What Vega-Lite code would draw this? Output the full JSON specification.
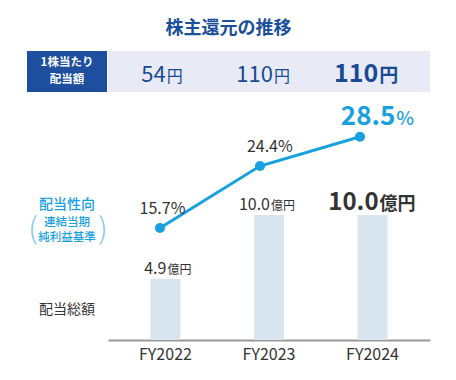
{
  "$schema": "https://vega.github.io/schema/vega-lite/v6.json",
  "padding": {"left": 27, "top": 20, "right": 5, "bottom": 5},
  "config": {"font": "Noto Sans CJK JP", "view": {"stroke": null}},
  "title": {"text": "株主還元の推移", "fontSize": 18, "fontWeight": "bold", "color": "#1a4f9c", "anchor": "middle", "offset": 13},
  "datasets": {
    "main": [
      {"year": "FY2022", "dps": 54, "total": 4.9, "payout": 15.7},
      {"year": "FY2023", "dps": 110, "total": 10.0, "payout": 24.4},
      {"year": "FY2024", "dps": 110, "total": 10.0, "payout": 28.5}
    ]
  },
  "columns": 2,
  "spacing": 0,
  "concat": [
    {
      "width": 80, "height": 41,
      "view": {"fill": "#1d4f9e", "stroke": null},
      "data": {"values": [{}]},
      "layer": [
        {"mark": {"type": "text", "text": "1株当たり", "color": "white", "fontSize": 11.5, "fontWeight": "bold", "baseline": "middle", "dy": -8.5}, "encoding": {}},
        {"mark": {"type": "text", "text": "配当額", "color": "white", "fontSize": 11.5, "fontWeight": "bold", "baseline": "middle", "dy": 8.5}, "encoding": {}}
      ]
    },
    {
      "width": 322, "height": 41,
      "view": {"fill": "#e8eaf5", "stroke": null},
      "data": {"name": "main"},
      "encoding": {"x": {"field": "year", "type": "nominal", "scale": {"paddingInner": 0.71, "paddingOuter": 0.41}, "axis": null}},
      "layer": [
        {"transform": [{"filter": "datum.year != 'FY2024'"}],
         "mark": {"type": "text", "align": "right", "baseline": "alphabetic", "dx": 4, "dy": 10, "fontSize": 22, "color": "#1a4a94"},
         "encoding": {"text": {"field": "dps", "type": "quantitative"}}},
        {"transform": [{"filter": "datum.year != 'FY2024'"}],
         "mark": {"type": "text", "text": "円", "align": "left", "baseline": "alphabetic", "dx": 5, "dy": 10, "fontSize": 16, "color": "#1a4a94"}},
        {"transform": [{"filter": "datum.year == 'FY2024'"}],
         "mark": {"type": "text", "align": "right", "baseline": "alphabetic", "dx": 2, "dy": 10, "fontSize": 25, "fontWeight": "bold", "color": "#1a4a94"},
         "encoding": {"text": {"field": "dps", "type": "quantitative"}}},
        {"transform": [{"filter": "datum.year == 'FY2024'"}],
         "mark": {"type": "text", "text": "円", "align": "left", "baseline": "alphabetic", "dx": 3, "dy": 10, "fontSize": 19, "fontWeight": "bold", "color": "#1a4a94"}}
      ]
    },
    {
      "width": 80, "height": 248,
      "data": {"values": [{}]},
      "layer": [
        {"mark": {"type": "text", "text": "配当性向", "fontSize": 14, "fontWeight": 500, "color": "#18a0df", "baseline": "middle"},
         "encoding": {"y": {"datum": 19.0, "type": "quantitative", "scale": {"domain": [0, 34.78]}, "axis": null}}},
        {"mark": {"type": "text", "text": "連結当期", "fontSize": 11.5, "fontWeight": 500, "color": "#18a0df", "baseline": "middle"},
         "encoding": {"y": {"datum": 16.55, "type": "quantitative"}}},
        {"mark": {"type": "text", "text": "純利益基準", "fontSize": 11.5, "fontWeight": 500, "color": "#18a0df", "baseline": "middle"},
         "encoding": {"y": {"datum": 14.45, "type": "quantitative"}}},
        {"mark": {"type": "text", "text": "(", "fontSize": 30, "fontWeight": 300, "color": "#7fc8ec", "baseline": "middle", "dx": -34},
         "encoding": {"y": {"datum": 15.5, "type": "quantitative"}}},
        {"mark": {"type": "text", "text": ")", "fontSize": 30, "fontWeight": 300, "color": "#7fc8ec", "baseline": "middle", "dx": 36},
         "encoding": {"y": {"datum": 15.5, "type": "quantitative"}}},
        {"mark": {"type": "text", "text": "配当総額", "fontSize": 14, "color": "#333333", "baseline": "middle"},
         "encoding": {"y": {"datum": 4.2, "type": "quantitative"}}}
      ]
    },
    {
      "width": 322, "height": 248,
      "data": {"name": "main"},
      "resolve": {"scale": {"x": "independent", "y": "independent"}},
      "layer": [
        {
          "encoding": {
            "x": {"field": "year", "type": "nominal", "scale": {"paddingInner": 0.71, "paddingOuter": 0.41},
                  "axis": {"title": null, "domainColor": "#999999", "domainWidth": 2, "ticks": false, "tickSize": 0, "labelFontSize": 16, "labelColor": "#333333", "labelPadding": 6, "labelAngle": 0, "grid": false}},
            "y": {"field": "total", "type": "quantitative", "scale": {"domain": [0, 19.85]}, "axis": null}
          },
          "layer": [
            {"mark": {"type": "bar", "color": "#d9e5ee"}},
            {"transform": [{"filter": "datum.year != 'FY2024'"}],
             "mark": {"type": "text", "align": "right", "baseline": "alphabetic", "dx": 1, "dy": -5, "fontSize": 16, "color": "#333333"},
             "encoding": {"text": {"field": "total", "type": "quantitative", "format": ".1f"}}},
            {"transform": [{"filter": "datum.year != 'FY2024'"}],
             "mark": {"type": "text", "text": "億円", "align": "left", "baseline": "alphabetic", "dx": 2, "dy": -5, "fontSize": 12, "color": "#333333"}},
            {"transform": [{"filter": "datum.year == 'FY2024'"}],
             "mark": {"type": "text", "align": "right", "baseline": "alphabetic", "dx": 6, "dy": -5, "fontSize": 24, "fontWeight": "bold", "color": "#333333"},
             "encoding": {"text": {"field": "total", "type": "quantitative", "format": ".1f"}}},
            {"transform": [{"filter": "datum.year == 'FY2024'"}],
             "mark": {"type": "text", "text": "億円", "align": "left", "baseline": "alphabetic", "dx": 7, "dy": -5, "fontSize": 18, "fontWeight": "bold", "color": "#333333"}}
          ]
        },
        {
          "encoding": {
            "x": {"field": "year", "type": "nominal", "scale": {"type": "point", "padding": 0.61, "align": 0.426}, "axis": null},
            "y": {"field": "payout", "type": "quantitative", "scale": {"domain": [0, 34.78]}, "axis": null}
          },
          "layer": [
            {"mark": {"type": "line", "color": "#18a0df", "strokeWidth": 3}},
            {"mark": {"type": "point", "filled": true, "opacity": 1, "size": 100, "color": "#18a0df"}}
          ]
        },
        {
          "encoding": {
            "x": {"field": "year", "type": "nominal", "scale": {"paddingInner": 0.71, "paddingOuter": 0.41}, "axis": null},
            "y": {"field": "payout", "type": "quantitative", "scale": {"domain": [0, 34.78]}, "axis": null}
          },
          "layer": [
            {"transform": [{"filter": "datum.year != 'FY2024'"}],
             "mark": {"type": "text", "align": "right", "baseline": "alphabetic", "dx": 9, "dy": -14, "fontSize": 16, "color": "#333333"},
             "encoding": {"text": {"field": "payout", "type": "quantitative", "format": ".1f"}}},
            {"transform": [{"filter": "datum.year != 'FY2024'"}],
             "mark": {"type": "text", "text": "%", "align": "left", "baseline": "alphabetic", "dx": 9, "dy": -14, "fontSize": 16, "color": "#333333"}},
            {"transform": [{"filter": "datum.year == 'FY2024'"}],
             "mark": {"type": "text", "align": "right", "baseline": "alphabetic", "dx": 19, "dy": -12, "fontSize": 26, "fontWeight": "bold", "color": "#18a0df"},
             "encoding": {"text": {"field": "payout", "type": "quantitative", "format": ".1f"}}},
            {"transform": [{"filter": "datum.year == 'FY2024'"}],
             "mark": {"type": "text", "text": "%", "align": "left", "baseline": "alphabetic", "dx": 20, "dy": -12, "fontSize": 19, "fontWeight": 500, "color": "#18a0df"}}
          ]
        }
      ]
    }
  ]
}
